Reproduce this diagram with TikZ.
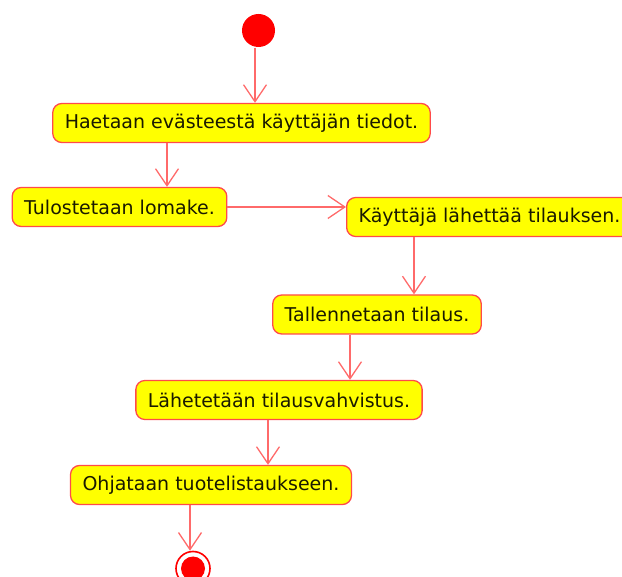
\documentclass[tikz,border=0pt]{standalone}
\usepackage{fontspec}
\setmainfont{DejaVu Sans}
\usetikzlibrary{arrows.meta,positioning}
\definecolor{umlfill}{HTML}{FFFF00}
\definecolor{umlborder}{HTML}{FF4A4A}
\definecolor{umlline}{HTML}{FF6A6A}
\definecolor{umldot}{HTML}{FF0000}
\definecolor{umltext}{HTML}{1A1A00}

\begin{document}
\begin{tikzpicture}[->,>={Straight Barb[length=17pt,width=23pt]},x=1pt,y=-1pt,
                    line width=1.3pt]
  \tikzstyle{activity}=[rectangle,rounded corners=9pt,draw=umlborder,fill=umlfill,
                        text=umltext,minimum height=39pt,inner xsep=12pt,
                        font=\fontsize{19}{22}\selectfont]
  \tikzstyle{flow}=[draw=umlline]

  \useasboundingbox (0,0) rectangle (622,577);
  \clip (0,0) rectangle (622,577);

  \node[circle,fill=umldot,minimum size=33pt,inner sep=0pt] (start) at (258.5,30.5) {};
  \node[activity] (haetaan)  at (241.5,123) {Haetaan evästeestä käyttäjän tiedot.};
  \node[activity] (lomake)   at (119.5,207) {Tulostetaan lomake.};
  \node[activity,anchor=west] (lahettaa) at (346,217) {Käyttäjä lähettää tilauksen.};
  \node[activity] (tallennus) at (377,314.5) {Tallennetaan tilaus.};
  \node[activity] (vahvistus) at (279,400) {Lähetetään tilausvahvistus.};
  \node[activity] (ohjaus)    at (211,485) {Ohjataan tuotelistaukseen.};
  \node[circle,draw=umldot,fill=white,line width=1.6pt,minimum size=34pt,inner sep=0pt,
        path picture={\fill[umldot] (path picture bounding box.center) circle (12pt);}]
        (loppu) at (193,568.5) {};

  \draw[flow] ([xshift=-3.5pt]start.south) -- ([xshift=-3.5pt]start |- haetaan.north);
  \draw[flow] ([xshift=47.5pt]lomake.north |- haetaan.south) -- ([xshift=47.5pt]lomake.north);
  \draw[flow] (lomake.east) -- (lomake.east -| lahettaa.west);
  \draw[flow] ([xshift=37pt]tallennus.north |- lahettaa.south) -- ([xshift=37pt]tallennus.north);
  \draw[flow] ([xshift=71pt]vahvistus.north |- tallennus.south) -- ([xshift=71pt]vahvistus.north);
  \draw[flow] ([xshift=57pt]ohjaus.north |- vahvistus.south) -- ([xshift=57pt]ohjaus.north);
  \draw[flow] ([xshift=-3pt]loppu.north |- ohjaus.south) -- ([xshift=-3pt]loppu.north);
\end{tikzpicture}
\end{document}
